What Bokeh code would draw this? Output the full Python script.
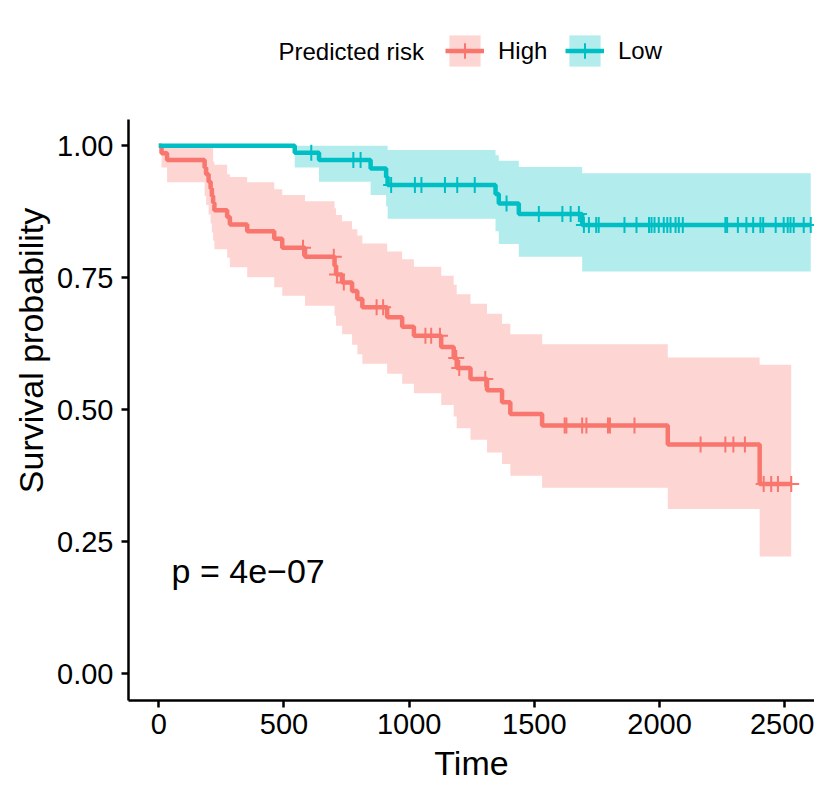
import numpy as np
from bokeh.plotting import figure
from bokeh.models import Range1d, FixedTicker, Legend, LegendItem, Label
from bokeh.embed import file_html
from bokeh.resources import INLINE

# ---- data (Kaplan-Meier estimates) ----
# High predicted risk
high_time = [0, 11, 33, 183, 189, 199, 207, 212, 217, 222, 273, 284, 353, 461, 493, 584,
             702, 708, 732, 772, 793, 813, 912, 972, 1019, 1128, 1178, 1190, 1245, 1311,
             1371, 1404, 1531, 2033, 2400]
high_surv = [1.0, 0.986, 0.973, 0.959, 0.946, 0.932, 0.919, 0.905, 0.892, 0.878, 0.865,
             0.851, 0.838, 0.824, 0.807, 0.790, 0.773, 0.756, 0.741, 0.725, 0.710, 0.694,
             0.675, 0.657, 0.640, 0.619, 0.598, 0.579, 0.558, 0.537, 0.514, 0.492, 0.470,
             0.434, 0.359]
high_lower = [1.0, 0.959, 0.931, 0.905, 0.888, 0.870, 0.853, 0.836, 0.820, 0.804, 0.788,
              0.770, 0.751, 0.732, 0.716, 0.697, 0.678, 0.659, 0.643, 0.623, 0.605, 0.587,
              0.568, 0.549, 0.531, 0.509, 0.487, 0.465, 0.443, 0.419, 0.397, 0.375, 0.352,
              0.312, 0.222]
high_upper = [1.0, 1.0, 1.0, 1.0, 1.0, 1.0, 1.0, 1.0, 0.970, 0.964, 0.946, 0.941, 0.931,
              0.918, 0.907, 0.895, 0.882, 0.869, 0.857, 0.842, 0.830, 0.815, 0.800, 0.785,
              0.771, 0.754, 0.737, 0.719, 0.701, 0.682, 0.663, 0.643, 0.624, 0.599, 0.585]
high_censor = [576, 699, 712, 739, 870, 896, 1065, 1088, 1123, 1188, 1200, 1304, 1621, 1628,
               1691, 1708, 1794, 1802, 1900, 2164, 2263, 2295, 2341, 2416, 2446, 2473, 2526]
high_end = 2526

# Low predicted risk
low_time = [0, 543, 640, 846, 908, 914, 1345, 1358, 1438, 1691]
low_surv = [1.0, 0.987, 0.973, 0.957, 0.941, 0.926, 0.909, 0.891, 0.871, 0.850]
low_lower = [1.0, 0.959, 0.932, 0.907, 0.885, 0.862, 0.838, 0.814, 0.790, 0.762]
low_upper = [1.0, 1.0, 1.0, 1.0, 1.0, 0.992, 0.982, 0.972, 0.960, 0.948]
low_censor = [609, 777, 806, 928, 1023, 1049, 1143, 1192, 1262, 1389, 1518, 1612, 1645, 1678,
              1698, 1718, 1747, 1757, 1860, 1908, 1958, 1968, 1980, 1997, 2017, 2031, 2044,
              2064, 2077, 2093, 2263, 2270, 2313, 2347, 2374, 2403, 2414, 2464, 2496, 2512,
              2523, 2536, 2576, 2604]
low_end = 2604

x_ticks = [0, 500, 1000, 1500, 2000, 2500]
y_ticks = [0.0, 0.25, 0.5, 0.75, 1.0]
y_tick_labels = ["0.00", "0.25", "0.50", "0.75", "1.00"]

legend_title = "Predicted risk"
group_names = ["High", "Low"]
group_colors = ["#F8766D", "#00BFC4"]
p_value_text = "p = 4e\u221207"

FONT = "Liberation Sans"
LINE_W = 4.5
CROSS_SIZE = 16
CROSS_W = 2
BAND_ALPHA = 0.3

# panel: y from -0.0511 to 1.05 (axis extent); frame extended upward to hold the legend
Y_LO, Y_HI = -0.0511, 1.05
Y_TOP = 1.2755

p = figure(width=814, height=786, output_backend="svg", toolbar_location=None,
           x_range=Range1d(-121, 2619), y_range=Range1d(Y_LO, Y_TOP),
           min_border_left=128, min_border_right=0, min_border_top=0, min_border_bottom=86)
p.outline_line_color = None
p.xgrid.visible = False
p.ygrid.visible = False


def step_arrays(times, surv, lower, upper, end):
    xs = list(times) + [end]
    ys = list(surv) + [surv[-1]]
    lo = list(lower) + [lower[-1]]
    up = list(upper) + [upper[-1]]
    return xs, ys, lo, up


def censor_y(times, surv, censor):
    idx = np.searchsorted(np.array(times), np.array(censor), side="right") - 1
    return [surv[i] for i in idx]


xh, yh, loh, uph = step_arrays(high_time, high_surv, high_lower, high_upper, high_end)
xl, yl, lol, upl = step_arrays(low_time, low_surv, low_lower, low_upper, low_end)

bh = p.varea_step(x=xh, y1=loh, y2=uph, step_mode="after", fill_color=group_colors[0], fill_alpha=BAND_ALPHA)
bl = p.varea_step(x=xl, y1=lol, y2=upl, step_mode="after", fill_color=group_colors[1], fill_alpha=BAND_ALPHA)

lh = p.step(xh, yh, mode="after", line_color=group_colors[0], line_width=LINE_W)
ll = p.step(xl, yl, mode="after", line_color=group_colors[1], line_width=LINE_W)

ch = p.scatter(high_censor, censor_y(high_time, high_surv, high_censor), marker="cross",
               size=CROSS_SIZE, line_color=group_colors[0], line_width=CROSS_W)
cl = p.scatter(low_censor, censor_y(low_time, low_surv, low_censor), marker="cross",
               size=CROSS_SIZE, line_color=group_colors[1], line_width=CROSS_W)

for ax in (p.xaxis[0], p.yaxis[0]):
    ax.axis_line_width = 2.5
    ax.axis_line_color = "black"
    ax.major_tick_line_width = 2.5
    ax.major_tick_line_color = "black"
    ax.major_tick_out = 7
    ax.major_tick_in = 0
    ax.minor_tick_out = 0
    ax.minor_tick_in = 0
    ax.major_label_text_font = FONT
    ax.major_label_text_font_size = "29px"
    ax.major_label_text_color = "black"
    ax.axis_label_text_font = FONT
    ax.axis_label_text_font_size = "34px"
    ax.axis_label_text_font_style = "normal"
    ax.axis_label_text_color = "black"

p.yaxis.bounds = (Y_LO, Y_HI)
p.xaxis.ticker = FixedTicker(ticks=x_ticks)
p.yaxis.ticker = FixedTicker(ticks=y_ticks)
p.yaxis.major_label_overrides = {t: s for t, s in zip(y_ticks, y_tick_labels)}
p.xaxis.axis_label = "Time"
p.yaxis.axis_label = "Survival probability"
p.xaxis.major_label_standoff = 6
p.xaxis.axis_label_standoff = 7
p.yaxis.major_label_standoff = 8
p.yaxis.axis_label_standoff = 4

p.add_layout(Label(x=51, y=0.195, text=p_value_text, text_baseline="middle",
                   text_font=FONT, text_font_size="34px", text_color="black"))

# legend at the top of the (extended) frame
legend = Legend(items=[LegendItem(label=group_names[0], renderers=[bh, lh, ch]),
                       LegendItem(label=group_names[1], renderers=[bl, ll, cl])],
                orientation="horizontal", location=(317, 630),
                padding=0, margin=0, spacing=14, label_standoff=14,
                glyph_width=39, glyph_height=39, label_width=53,
                border_line_color=None, background_fill_alpha=0,
                label_text_font=FONT, label_text_font_size="24px",
                label_text_color="black")
p.add_layout(legend)
p.add_layout(Label(x=150, y=649.5, x_units="screen", y_units="screen", text=legend_title,
                   text_baseline="middle", text_font=FONT, text_font_size="24px",
                   text_color="black"))

open("out.html", "w").write(file_html(p, INLINE))
